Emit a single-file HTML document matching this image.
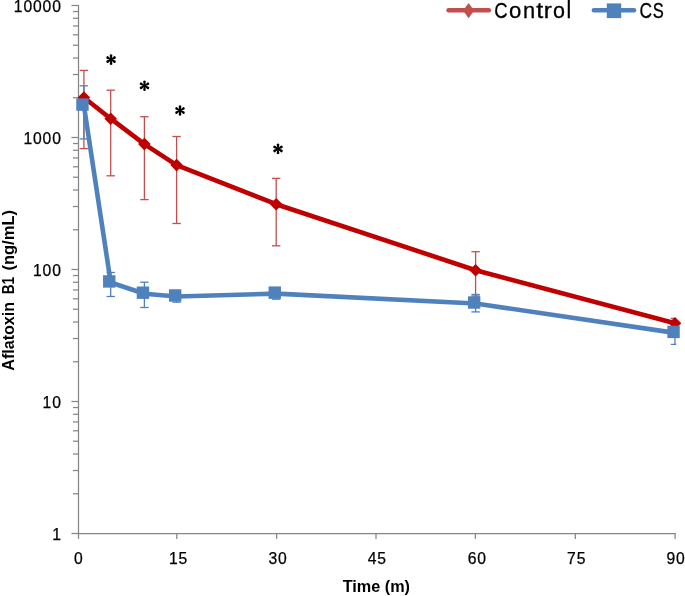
<!DOCTYPE html>
<html><head><meta charset="utf-8"><style>
html,body{margin:0;padding:0;background:#fff;}
svg{display:block;}
text{-webkit-font-smoothing:antialiased;}
body{will-change:transform;}
</style></head><body>
<svg width="685" height="596" viewBox="0 0 685 596">
<rect width="685" height="596" fill="#fff"/>
<line x1="78.5" y1="4.9" x2="78.5" y2="534.1" stroke="#868686" stroke-width="1.25"/>
<line x1="77.85" y1="533.5" x2="675.7" y2="533.5" stroke="#868686" stroke-width="1.25"/>
<line x1="71.4" y1="533.50" x2="78.5" y2="533.50" stroke="#868686" stroke-width="1.25"/>
<line x1="73" y1="493.76" x2="78.5" y2="493.76" stroke="#868686" stroke-width="1.25"/>
<line x1="73" y1="470.52" x2="78.5" y2="470.52" stroke="#868686" stroke-width="1.25"/>
<line x1="73" y1="454.03" x2="78.5" y2="454.03" stroke="#868686" stroke-width="1.25"/>
<line x1="73" y1="441.24" x2="78.5" y2="441.24" stroke="#868686" stroke-width="1.25"/>
<line x1="73" y1="430.78" x2="78.5" y2="430.78" stroke="#868686" stroke-width="1.25"/>
<line x1="73" y1="421.95" x2="78.5" y2="421.95" stroke="#868686" stroke-width="1.25"/>
<line x1="73" y1="414.29" x2="78.5" y2="414.29" stroke="#868686" stroke-width="1.25"/>
<line x1="73" y1="407.54" x2="78.5" y2="407.54" stroke="#868686" stroke-width="1.25"/>
<line x1="71.4" y1="401.50" x2="78.5" y2="401.50" stroke="#868686" stroke-width="1.25"/>
<line x1="73" y1="361.76" x2="78.5" y2="361.76" stroke="#868686" stroke-width="1.25"/>
<line x1="73" y1="338.52" x2="78.5" y2="338.52" stroke="#868686" stroke-width="1.25"/>
<line x1="73" y1="322.03" x2="78.5" y2="322.03" stroke="#868686" stroke-width="1.25"/>
<line x1="73" y1="309.24" x2="78.5" y2="309.24" stroke="#868686" stroke-width="1.25"/>
<line x1="73" y1="298.78" x2="78.5" y2="298.78" stroke="#868686" stroke-width="1.25"/>
<line x1="73" y1="289.95" x2="78.5" y2="289.95" stroke="#868686" stroke-width="1.25"/>
<line x1="73" y1="282.29" x2="78.5" y2="282.29" stroke="#868686" stroke-width="1.25"/>
<line x1="73" y1="275.54" x2="78.5" y2="275.54" stroke="#868686" stroke-width="1.25"/>
<line x1="71.4" y1="269.50" x2="78.5" y2="269.50" stroke="#868686" stroke-width="1.25"/>
<line x1="73" y1="229.76" x2="78.5" y2="229.76" stroke="#868686" stroke-width="1.25"/>
<line x1="73" y1="206.52" x2="78.5" y2="206.52" stroke="#868686" stroke-width="1.25"/>
<line x1="73" y1="190.03" x2="78.5" y2="190.03" stroke="#868686" stroke-width="1.25"/>
<line x1="73" y1="177.24" x2="78.5" y2="177.24" stroke="#868686" stroke-width="1.25"/>
<line x1="73" y1="166.78" x2="78.5" y2="166.78" stroke="#868686" stroke-width="1.25"/>
<line x1="73" y1="157.95" x2="78.5" y2="157.95" stroke="#868686" stroke-width="1.25"/>
<line x1="73" y1="150.29" x2="78.5" y2="150.29" stroke="#868686" stroke-width="1.25"/>
<line x1="73" y1="143.54" x2="78.5" y2="143.54" stroke="#868686" stroke-width="1.25"/>
<line x1="71.4" y1="137.50" x2="78.5" y2="137.50" stroke="#868686" stroke-width="1.25"/>
<line x1="73" y1="97.76" x2="78.5" y2="97.76" stroke="#868686" stroke-width="1.25"/>
<line x1="73" y1="74.52" x2="78.5" y2="74.52" stroke="#868686" stroke-width="1.25"/>
<line x1="73" y1="58.03" x2="78.5" y2="58.03" stroke="#868686" stroke-width="1.25"/>
<line x1="73" y1="45.24" x2="78.5" y2="45.24" stroke="#868686" stroke-width="1.25"/>
<line x1="73" y1="34.78" x2="78.5" y2="34.78" stroke="#868686" stroke-width="1.25"/>
<line x1="73" y1="25.95" x2="78.5" y2="25.95" stroke="#868686" stroke-width="1.25"/>
<line x1="73" y1="18.29" x2="78.5" y2="18.29" stroke="#868686" stroke-width="1.25"/>
<line x1="73" y1="11.54" x2="78.5" y2="11.54" stroke="#868686" stroke-width="1.25"/>
<line x1="71.4" y1="5.50" x2="78.5" y2="5.50" stroke="#868686" stroke-width="1.25"/>
<line x1="78.5" y1="533.5" x2="78.5" y2="538.9" stroke="#868686" stroke-width="1.25"/>
<line x1="176.8" y1="533.5" x2="176.8" y2="538.9" stroke="#868686" stroke-width="1.25"/>
<line x1="276.6" y1="533.5" x2="276.6" y2="538.9" stroke="#868686" stroke-width="1.25"/>
<line x1="376.0" y1="533.5" x2="376.0" y2="538.9" stroke="#868686" stroke-width="1.25"/>
<line x1="475.4" y1="533.5" x2="475.4" y2="538.9" stroke="#868686" stroke-width="1.25"/>
<line x1="575.3" y1="533.5" x2="575.3" y2="538.9" stroke="#868686" stroke-width="1.25"/>
<line x1="675.1" y1="533.5" x2="675.1" y2="538.9" stroke="#868686" stroke-width="1.25"/>
<defs><clipPath id="pa"><rect x="0" y="0" width="676.2" height="596"/></clipPath></defs>
<g clip-path="url(#pa)">
<line x1="83.9" y1="70.4" x2="83.9" y2="148.6" stroke="#C0504D" stroke-width="1.3"/>
<line x1="79.7" y1="70.4" x2="88.10000000000001" y2="70.4" stroke="#C0504D" stroke-width="1.3"/>
<line x1="79.7" y1="148.6" x2="88.10000000000001" y2="148.6" stroke="#C0504D" stroke-width="1.3"/>
<line x1="110.7" y1="90.2" x2="110.7" y2="175.8" stroke="#C0504D" stroke-width="1.3"/>
<line x1="106.5" y1="90.2" x2="114.9" y2="90.2" stroke="#C0504D" stroke-width="1.3"/>
<line x1="106.5" y1="175.8" x2="114.9" y2="175.8" stroke="#C0504D" stroke-width="1.3"/>
<line x1="144.4" y1="116.7" x2="144.4" y2="199.6" stroke="#C0504D" stroke-width="1.3"/>
<line x1="140.20000000000002" y1="116.7" x2="148.6" y2="116.7" stroke="#C0504D" stroke-width="1.3"/>
<line x1="140.20000000000002" y1="199.6" x2="148.6" y2="199.6" stroke="#C0504D" stroke-width="1.3"/>
<line x1="176.6" y1="136.5" x2="176.6" y2="223.5" stroke="#C0504D" stroke-width="1.3"/>
<line x1="172.4" y1="136.5" x2="180.79999999999998" y2="136.5" stroke="#C0504D" stroke-width="1.3"/>
<line x1="172.4" y1="223.5" x2="180.79999999999998" y2="223.5" stroke="#C0504D" stroke-width="1.3"/>
<line x1="276.2" y1="178.4" x2="276.2" y2="245.8" stroke="#C0504D" stroke-width="1.3"/>
<line x1="272.0" y1="178.4" x2="280.4" y2="178.4" stroke="#C0504D" stroke-width="1.3"/>
<line x1="272.0" y1="245.8" x2="280.4" y2="245.8" stroke="#C0504D" stroke-width="1.3"/>
<line x1="475.6" y1="251.7" x2="475.6" y2="296.0" stroke="#C0504D" stroke-width="1.3"/>
<line x1="471.40000000000003" y1="251.7" x2="479.8" y2="251.7" stroke="#C0504D" stroke-width="1.3"/>
<line x1="471.40000000000003" y1="296.0" x2="479.8" y2="296.0" stroke="#C0504D" stroke-width="1.3"/>
<line x1="675.0" y1="318.5" x2="675.0" y2="329.0" stroke="#C0504D" stroke-width="1.3"/>
<line x1="670.8" y1="318.5" x2="679.2" y2="318.5" stroke="#C0504D" stroke-width="1.3"/>
<line x1="670.8" y1="329.0" x2="679.2" y2="329.0" stroke="#C0504D" stroke-width="1.3"/>
<line x1="83.9" y1="85.8" x2="83.9" y2="138.9" stroke="#4F81BD" stroke-width="1.3"/>
<line x1="79.7" y1="85.8" x2="88.10000000000001" y2="85.8" stroke="#4F81BD" stroke-width="1.3"/>
<line x1="79.7" y1="138.9" x2="88.10000000000001" y2="138.9" stroke="#4F81BD" stroke-width="1.3"/>
<line x1="110.7" y1="272.5" x2="110.7" y2="296.5" stroke="#4F81BD" stroke-width="1.3"/>
<line x1="106.5" y1="272.5" x2="114.9" y2="272.5" stroke="#4F81BD" stroke-width="1.3"/>
<line x1="106.5" y1="296.5" x2="114.9" y2="296.5" stroke="#4F81BD" stroke-width="1.3"/>
<line x1="144.4" y1="282.2" x2="144.4" y2="307.5" stroke="#4F81BD" stroke-width="1.3"/>
<line x1="140.20000000000002" y1="282.2" x2="148.6" y2="282.2" stroke="#4F81BD" stroke-width="1.3"/>
<line x1="140.20000000000002" y1="307.5" x2="148.6" y2="307.5" stroke="#4F81BD" stroke-width="1.3"/>
<line x1="176.6" y1="290.5" x2="176.6" y2="302.2" stroke="#4F81BD" stroke-width="1.3"/>
<line x1="172.4" y1="290.5" x2="180.79999999999998" y2="290.5" stroke="#4F81BD" stroke-width="1.3"/>
<line x1="172.4" y1="302.2" x2="180.79999999999998" y2="302.2" stroke="#4F81BD" stroke-width="1.3"/>
<line x1="276.2" y1="287.8" x2="276.2" y2="299.2" stroke="#4F81BD" stroke-width="1.3"/>
<line x1="272.0" y1="287.8" x2="280.4" y2="287.8" stroke="#4F81BD" stroke-width="1.3"/>
<line x1="272.0" y1="299.2" x2="280.4" y2="299.2" stroke="#4F81BD" stroke-width="1.3"/>
<line x1="475.6" y1="294.5" x2="475.6" y2="311.9" stroke="#4F81BD" stroke-width="1.3"/>
<line x1="471.40000000000003" y1="294.5" x2="479.8" y2="294.5" stroke="#4F81BD" stroke-width="1.3"/>
<line x1="471.40000000000003" y1="311.9" x2="479.8" y2="311.9" stroke="#4F81BD" stroke-width="1.3"/>
<line x1="675.0" y1="326.0" x2="675.0" y2="344.3" stroke="#4F81BD" stroke-width="1.3"/>
<line x1="670.8" y1="326.0" x2="679.2" y2="326.0" stroke="#4F81BD" stroke-width="1.3"/>
<line x1="670.8" y1="344.3" x2="679.2" y2="344.3" stroke="#4F81BD" stroke-width="1.3"/>
</g>
<polyline points="83.9,97.5 110.7,118.7 144.4,144.1 176.6,165.1 276.2,204.2 475.6,270.2 675.0,323.3" fill="none" stroke="#C00000" stroke-width="4.6" stroke-linejoin="round"/>
<path d="M83.9 91.2L90.2 97.5L83.9 103.8L77.60000000000001 97.5Z" fill="#C00000"/>
<path d="M110.7 112.4L117.0 118.7L110.7 125.0L104.4 118.7Z" fill="#C00000"/>
<path d="M144.4 137.79999999999998L150.70000000000002 144.1L144.4 150.4L138.1 144.1Z" fill="#C00000"/>
<path d="M176.6 158.79999999999998L182.9 165.1L176.6 171.4L170.29999999999998 165.1Z" fill="#C00000"/>
<path d="M276.2 197.89999999999998L282.5 204.2L276.2 210.5L269.9 204.2Z" fill="#C00000"/>
<path d="M475.6 263.9L481.90000000000003 270.2L475.6 276.5L469.3 270.2Z" fill="#C00000"/>
<path d="M675.0 317.0L681.3 323.3L675.0 329.6L668.7 323.3Z" fill="#C00000"/>
<polyline points="83.9,105.60 110.7,282.45 144.4,293.70 176.6,296.50 276.2,293.65 475.6,303.50 675.0,332.90" fill="none" stroke="#4F81BD" stroke-width="4.6" stroke-linejoin="round"/>
<rect x="76.25" y="98.40" width="12.4" height="12.4" fill="#4F81BD"/>
<rect x="103.05" y="275.25" width="12.4" height="12.4" fill="#4F81BD"/>
<rect x="136.75" y="286.50" width="12.4" height="12.4" fill="#4F81BD"/>
<rect x="168.95" y="289.30" width="12.4" height="12.4" fill="#4F81BD"/>
<rect x="268.55" y="286.45" width="12.4" height="12.4" fill="#4F81BD"/>
<rect x="467.95" y="296.30" width="12.4" height="12.4" fill="#4F81BD"/>
<rect x="667.35" y="325.70" width="12.4" height="12.4" fill="#4F81BD"/>
<g transform="translate(111.05,59.6)" fill="#000"><path transform="rotate(0)" d="M-0.55 0L-1.25 -3.55A1.32 1.32 0 1 1 1.25 -3.55L0.55 0Z"/><path transform="rotate(60)" d="M-0.55 0L-1.25 -3.55A1.32 1.32 0 1 1 1.25 -3.55L0.55 0Z"/><path transform="rotate(120)" d="M-0.55 0L-1.25 -3.55A1.32 1.32 0 1 1 1.25 -3.55L0.55 0Z"/><path transform="rotate(180)" d="M-0.55 0L-1.25 -3.55A1.32 1.32 0 1 1 1.25 -3.55L0.55 0Z"/><path transform="rotate(240)" d="M-0.55 0L-1.25 -3.55A1.32 1.32 0 1 1 1.25 -3.55L0.55 0Z"/><path transform="rotate(300)" d="M-0.55 0L-1.25 -3.55A1.32 1.32 0 1 1 1.25 -3.55L0.55 0Z"/><circle r="1.3"/></g>
<g transform="translate(144.5,85.8)" fill="#000"><path transform="rotate(0)" d="M-0.55 0L-1.25 -3.55A1.32 1.32 0 1 1 1.25 -3.55L0.55 0Z"/><path transform="rotate(60)" d="M-0.55 0L-1.25 -3.55A1.32 1.32 0 1 1 1.25 -3.55L0.55 0Z"/><path transform="rotate(120)" d="M-0.55 0L-1.25 -3.55A1.32 1.32 0 1 1 1.25 -3.55L0.55 0Z"/><path transform="rotate(180)" d="M-0.55 0L-1.25 -3.55A1.32 1.32 0 1 1 1.25 -3.55L0.55 0Z"/><path transform="rotate(240)" d="M-0.55 0L-1.25 -3.55A1.32 1.32 0 1 1 1.25 -3.55L0.55 0Z"/><path transform="rotate(300)" d="M-0.55 0L-1.25 -3.55A1.32 1.32 0 1 1 1.25 -3.55L0.55 0Z"/><circle r="1.3"/></g>
<g transform="translate(180.0,110.5)" fill="#000"><path transform="rotate(0)" d="M-0.55 0L-1.25 -3.55A1.32 1.32 0 1 1 1.25 -3.55L0.55 0Z"/><path transform="rotate(60)" d="M-0.55 0L-1.25 -3.55A1.32 1.32 0 1 1 1.25 -3.55L0.55 0Z"/><path transform="rotate(120)" d="M-0.55 0L-1.25 -3.55A1.32 1.32 0 1 1 1.25 -3.55L0.55 0Z"/><path transform="rotate(180)" d="M-0.55 0L-1.25 -3.55A1.32 1.32 0 1 1 1.25 -3.55L0.55 0Z"/><path transform="rotate(240)" d="M-0.55 0L-1.25 -3.55A1.32 1.32 0 1 1 1.25 -3.55L0.55 0Z"/><path transform="rotate(300)" d="M-0.55 0L-1.25 -3.55A1.32 1.32 0 1 1 1.25 -3.55L0.55 0Z"/><circle r="1.3"/></g>
<g transform="translate(278.0,148.9)" fill="#000"><path transform="rotate(0)" d="M-0.55 0L-1.25 -3.55A1.32 1.32 0 1 1 1.25 -3.55L0.55 0Z"/><path transform="rotate(60)" d="M-0.55 0L-1.25 -3.55A1.32 1.32 0 1 1 1.25 -3.55L0.55 0Z"/><path transform="rotate(120)" d="M-0.55 0L-1.25 -3.55A1.32 1.32 0 1 1 1.25 -3.55L0.55 0Z"/><path transform="rotate(180)" d="M-0.55 0L-1.25 -3.55A1.32 1.32 0 1 1 1.25 -3.55L0.55 0Z"/><path transform="rotate(240)" d="M-0.55 0L-1.25 -3.55A1.32 1.32 0 1 1 1.25 -3.55L0.55 0Z"/><path transform="rotate(300)" d="M-0.55 0L-1.25 -3.55A1.32 1.32 0 1 1 1.25 -3.55L0.55 0Z"/><circle r="1.3"/></g>
<text transform="translate(61.769999999999996,12.0) scale(1.0,1)" font-size="15.7" text-anchor="end" font-weight="normal" font-family="Liberation Sans, sans-serif" fill="#000" letter-spacing="0.87" stroke="#000" stroke-width="0.25">10000</text>
<text transform="translate(61.769999999999996,143.9) scale(1.0,1)" font-size="15.7" text-anchor="end" font-weight="normal" font-family="Liberation Sans, sans-serif" fill="#000" letter-spacing="0.87" stroke="#000" stroke-width="0.25">1000</text>
<text transform="translate(61.769999999999996,275.9) scale(1.0,1)" font-size="15.7" text-anchor="end" font-weight="normal" font-family="Liberation Sans, sans-serif" fill="#000" letter-spacing="0.87" stroke="#000" stroke-width="0.25">100</text>
<text transform="translate(61.769999999999996,408.0) scale(1.0,1)" font-size="15.7" text-anchor="end" font-weight="normal" font-family="Liberation Sans, sans-serif" fill="#000" letter-spacing="0.87" stroke="#000" stroke-width="0.25">10</text>
<text transform="translate(61.769999999999996,540.0) scale(1.0,1)" font-size="15.7" text-anchor="end" font-weight="normal" font-family="Liberation Sans, sans-serif" fill="#000" letter-spacing="0.87" stroke="#000" stroke-width="0.25">1</text>
<text transform="translate(78.83000000000001,564.0) scale(1.0,1)" font-size="15.7" text-anchor="middle" font-weight="normal" font-family="Liberation Sans, sans-serif" fill="#000" letter-spacing="0.87" stroke="#000" stroke-width="0.25">0</text>
<text transform="translate(178.53,564.0) scale(1.0,1)" font-size="15.7" text-anchor="middle" font-weight="normal" font-family="Liberation Sans, sans-serif" fill="#000" letter-spacing="0.87" stroke="#000" stroke-width="0.25">15</text>
<text transform="translate(278.03000000000003,564.0) scale(1.0,1)" font-size="15.7" text-anchor="middle" font-weight="normal" font-family="Liberation Sans, sans-serif" fill="#000" letter-spacing="0.87" stroke="#000" stroke-width="0.25">30</text>
<text transform="translate(377.23,564.0) scale(1.0,1)" font-size="15.7" text-anchor="middle" font-weight="normal" font-family="Liberation Sans, sans-serif" fill="#000" letter-spacing="0.87" stroke="#000" stroke-width="0.25">45</text>
<text transform="translate(477.23,564.0) scale(1.0,1)" font-size="15.7" text-anchor="middle" font-weight="normal" font-family="Liberation Sans, sans-serif" fill="#000" letter-spacing="0.87" stroke="#000" stroke-width="0.25">60</text>
<text transform="translate(576.63,564.0) scale(1.0,1)" font-size="15.7" text-anchor="middle" font-weight="normal" font-family="Liberation Sans, sans-serif" fill="#000" letter-spacing="0.87" stroke="#000" stroke-width="0.25">75</text>
<text transform="translate(676.03,564.0) scale(1.0,1)" font-size="15.7" text-anchor="middle" font-weight="normal" font-family="Liberation Sans, sans-serif" fill="#000" letter-spacing="0.87" stroke="#000" stroke-width="0.25">90</text>
<text transform="translate(342.7,592.2) scale(0.9955,1)" font-size="16.3" text-anchor="start" font-weight="bold" font-family="Liberation Sans, sans-serif" fill="#000" >Time (m)</text>
<text transform="translate(13.6,370.69) rotate(-90) scale(0.9868,1)" font-size="16.3" font-weight="bold" font-family="Liberation Sans, sans-serif" fill="#000">Aflatoxin</text>
<text transform="translate(13.6,294.32) rotate(-90) scale(0.8394,1)" font-size="16.3" font-weight="bold" font-family="Liberation Sans, sans-serif" fill="#000">B1</text>
<text transform="translate(13.6,270.61) rotate(-90) scale(1.0155,1)" font-size="16.3" font-weight="bold" font-family="Liberation Sans, sans-serif" fill="#000">(ng/mL)</text>
<line x1="448.6" y1="10.3" x2="488.8" y2="10.3" stroke="#C0504D" stroke-width="4.6" stroke-linecap="round"/>
<path d="M468.6 3.1L474.1 10.6L468.6 18.2L463.1 10.6Z" fill="#C0504D"/>
<line x1="593.9" y1="10.25" x2="634" y2="10.25" stroke="#4F81BD" stroke-width="4.5" stroke-linecap="round"/>
<rect x="606.8" y="3.4" width="14.4" height="14.7" fill="#4F81BD"/>
<text transform="translate(494.29,18.3) scale(0.830,1.0)" font-size="22.3" font-family="Liberation Sans, sans-serif" fill="#000" stroke="#000" stroke-width="0.3">C</text>
<text transform="translate(508.91,18.3) scale(0.991,1.0)" font-size="22.3" font-family="Liberation Sans, sans-serif" fill="#000" stroke="#000" stroke-width="0.3">o</text>
<text transform="translate(522.93,18.3) scale(0.979,1.0)" font-size="22.3" font-family="Liberation Sans, sans-serif" fill="#000" stroke="#000" stroke-width="0.3">n</text>
<text transform="translate(536.36,18.3) scale(1.123,1.0)" font-size="22.3" font-family="Liberation Sans, sans-serif" fill="#000" stroke="#000" stroke-width="0.3">t</text>
<text transform="translate(543.87,18.3) scale(1.089,1.0)" font-size="22.3" font-family="Liberation Sans, sans-serif" fill="#000" stroke="#000" stroke-width="0.3">r</text>
<text transform="translate(552.93,18.3) scale(0.962,1.0)" font-size="22.3" font-family="Liberation Sans, sans-serif" fill="#000" stroke="#000" stroke-width="0.3">o</text>
<text transform="translate(566.48,18.3) scale(0.950,1.06)" font-size="22.3" font-family="Liberation Sans, sans-serif" fill="#000" stroke="#000" stroke-width="0.3">l</text>
<text transform="translate(639.49,18.3) scale(0.780,1.0)" font-size="22.3" font-family="Liberation Sans, sans-serif" fill="#000" stroke="#000" stroke-width="0.3">C</text>
<text transform="translate(652.71,18.3) scale(0.742,1.0)" font-size="22.3" font-family="Liberation Sans, sans-serif" fill="#000" stroke="#000" stroke-width="0.3">S</text>
</svg>
</body></html>
